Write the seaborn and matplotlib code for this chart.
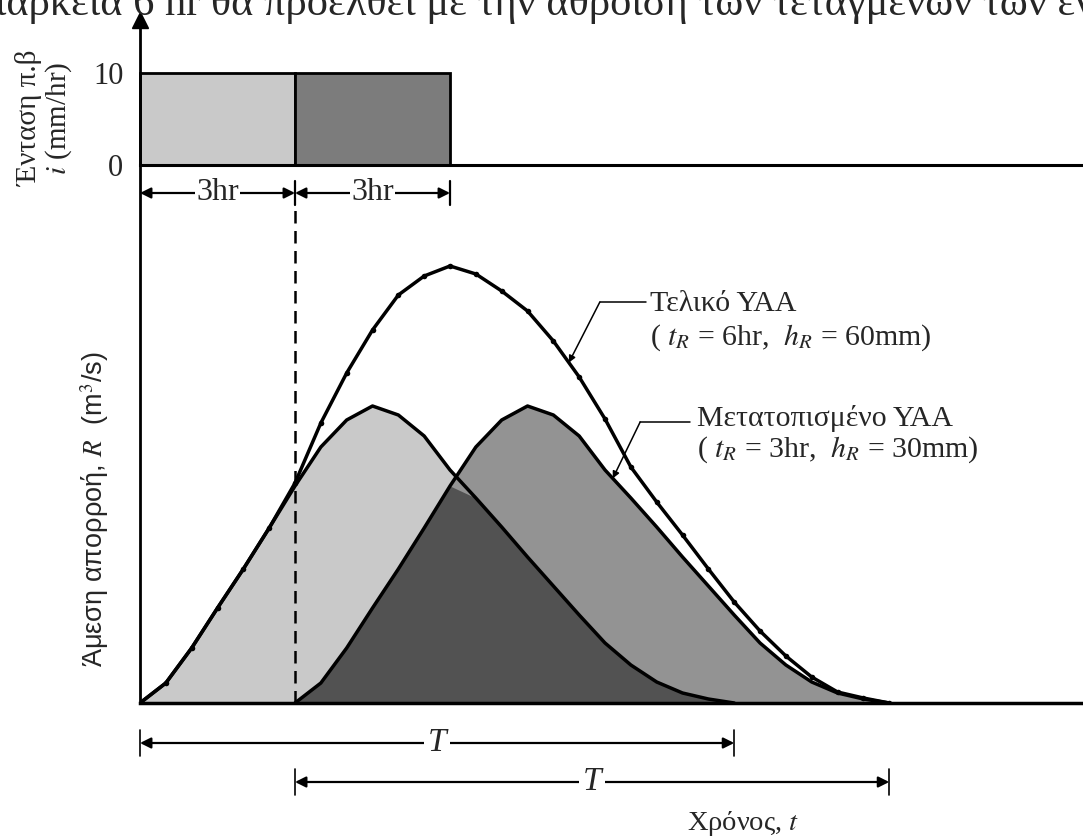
import matplotlib.pyplot as plt
import numpy as np
import pandas as pd
import seaborn as sns

# unit hydrograph ordinates (tR = 3hr, hR = 30mm), read every 0.5 hr
uh_time = np.arange(0, 12, 0.5)
uh_flow = np.array([0, 20, 55, 95, 134, 175, 217, 256, 283, 297, 288, 267,
                    233, 205, 176, 146, 117, 88, 60, 38, 21, 10, 4, 0])

# final hydrograph (tR = 6hr, hR = 60mm), read every 0.5 hr
final_time = np.arange(0, 15, 0.5)
final_flow = np.array([0, 20, 55, 95, 134, 175, 220, 280, 330, 373,
                       408, 427, 437, 429, 412, 392, 362, 326, 284, 236,
                       201, 168, 134, 101, 72, 47, 26, 11, 5, 0])

# two rainfall blocks of 3 hr, 10 mm/hr each
rain_start = [0, 3]
rain_intensity = [10, 10]
rain_duration = 3
lag = 3  # hr, shift of the second unit hydrograph
base_time = uh_time[-1]  # T

light, mid, dark = "#c9c9c9", "#939393", "#525252"

# both unit hydrographs on the common time grid
n_lag = int(lag / 0.5)
uh1 = np.concatenate([uh_flow, np.zeros(n_lag)])
uh2 = np.concatenate([np.zeros(n_lag), uh_flow])
df = pd.DataFrame({"t": final_time, "uh1": uh1, "uh2": uh2, "final": final_flow})

sns.set_theme(style="white")
plt.rcParams["font.family"] = ["Liberation Serif", "DejaVu Serif"]
plt.rcParams["mathtext.fontset"] = "stix"

fig = plt.figure(figsize=(10.83, 8.36), dpi=100)
W, H = 1083, 836
ax = fig.add_axes([140 / W, 133 / H, 943 / W, 538 / H])
ax_r = fig.add_axes([140 / W, 671 / H, 943 / W, 145 / H], sharex=ax)

xmax = 943 / 51.67
ax.set_xlim(0, xmax)
ax.set_ylim(0, 538)

# --- rainfall panel
ax_r.bar(rain_start, rain_intensity, width=rain_duration, align="edge",
         color=[light, "#7c7c7c"], edgecolor="black", linewidth=2, clip_on=False)
ax_r.set_ylim(0, 15.76)
ax_r.set_yticks([0, 10])
ax_r.set_yticklabels(["0", "10"], fontsize=22)
ax_r.tick_params(axis="y", length=0, pad=12)
ax_r.tick_params(axis="x", bottom=False, labelbottom=False)
for s in ["top", "right"]:
    ax_r.spines[s].set_visible(False)
ax_r.spines["left"].set_linewidth(2)
ax_r.spines["bottom"].set_linewidth(2.2)
ax_r.spines["left"].set_color("black")
ax_r.spines["bottom"].set_color("black")
ax_r.plot(0, 15.76, marker="^", ms=11, color="black", clip_on=False)
fig.text(45 / W, 1 - 118 / H, "Ένταση π.β\n$i$ (mm/hr)", fontsize=21, rotation=90,
         ha="center", va="center", multialignment="center", linespacing=1.05)

# --- hydrographs
ax.fill_between(df["t"], df["uh1"], color=light, lw=0)
ax.fill_between(df["t"], df["uh2"], color=mid, lw=0)
ax.fill_between(df["t"], np.minimum(df["uh1"], df["uh2"]), color=dark, lw=0)
sns.lineplot(x=uh_time, y=uh_flow, color="black", lw=2.5, estimator=None, ax=ax)
sns.lineplot(x=uh_time + lag, y=uh_flow, color="black", lw=2.5, estimator=None, ax=ax)
sns.lineplot(data=df, x="t", y="final", color="black", lw=2.5, marker="o",
             markersize=4, markeredgewidth=0, estimator=None, ax=ax)

ax.set_xticks([])
ax.set_yticks([])
for s in ["top", "right"]:
    ax.spines[s].set_visible(False)
ax.spines["left"].set_linewidth(2)
ax.spines["bottom"].set_linewidth(2.5)
ax.spines["left"].set_color("black")
ax.spines["bottom"].set_color("black")
ax.set_xlabel("")
ax.set_ylabel("Άμεση απορροή, $R$  (m$^3$/s)", fontsize=19.5,
              family=["Liberation Sans", "DejaVu Sans"])
ax.yaxis.set_label_coords(-0.031, 0.36)

# dashed line at the start of the second block
ax.plot([lag, lag], [0, 498], color="black", lw=1.8, ls=(0, (5, 3)))

arrow = dict(arrowstyle="<|-|>", mutation_scale=16, lw=1.6, color="black",
             shrinkA=0, shrinkB=0)

# 3hr dimension arrows
y3 = 510
for x0 in rain_start:
    ax.annotate("", xy=(x0, y3), xytext=(x0 + rain_duration, y3), arrowprops=arrow)
    ax.text(x0 + rain_duration / 2, y3, "3hr", fontsize=23, ha="center", va="center",
            bbox=dict(facecolor="white", edgecolor="none", pad=1))
    ax.plot([x0 + rain_duration] * 2, [y3 - 12, y3 + 12], color="black", lw=1.6)

# T (base time) arrows below the axis
for x0, yT in [(0, -40), (lag, -79)]:
    ax.annotate("", xy=(x0, yT), xytext=(x0 + base_time, yT), arrowprops=arrow,
                annotation_clip=False)
    for xe in [x0, x0 + base_time]:
        ax.plot([xe, xe], [yT - 13, yT + 13], color="black", lw=1.2, clip_on=False)
    ax.text(x0 + base_time / 2, yT, "T", fontsize=24, style="italic", ha="center",
            va="center", bbox=dict(facecolor="white", edgecolor="none", pad=3))

ax.text((743 - 140) / 51.67, -120, "Χρόνος, $t$", fontsize=20.5, ha="center", va="center")

# labels with leader arrows
lead = dict(arrowstyle="-|>", mutation_scale=10, lw=1.1, color="black",
            shrinkA=0, shrinkB=0)
t1 = 8.3
tip1 = (t1, np.interp(t1, df["t"], df["final"]))
ax.plot([8.9, 9.8], [401, 401], color="black", lw=1.1)
ax.annotate("", xy=tip1, xytext=(8.9, 401), arrowprops=lead)
ax.text(9.87, 381, "Τελικό ΥΑΑ\n( $t_R$ = 6hr,  $h_R$ = 60mm)", fontsize=21.5,
        ha="left", va="center", linespacing=1.25)

t2 = 9.15
tip2 = (t2, np.interp(t2, df["t"], df["uh2"]))
ax.plot([9.68, 10.64], [281, 281], color="black", lw=1.1)
ax.annotate("", xy=tip2, xytext=(9.68, 281), arrowprops=lead)
ax.text(10.78, 268, "Μετατοπισμένο ΥΑΑ\n( $t_R$ = 3hr,  $h_R$ = 30mm)", fontsize=21.5,
        ha="left", va="center", linespacing=1.1)

# cropped line of the surrounding page text
fig.text(-0.023, 1 - 15 / H, "διάρκεια 6 hr θα προέλθει με την άθροιση των τεταγμένων των ενδιάμεσων",
         fontsize=30.5, ha="left", va="baseline")

fig.savefig("out.png", dpi=100, facecolor="white")
